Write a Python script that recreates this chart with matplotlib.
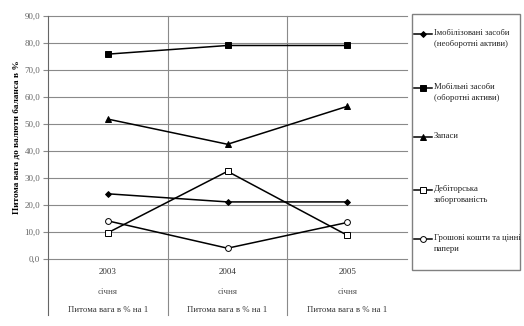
import matplotlib
matplotlib.use("Agg")
import matplotlib.pyplot as plt
from matplotlib.lines import Line2D
from matplotlib.patches import Rectangle

plt.rcParams['font.family'] = ['Liberation Serif', 'DejaVu Serif']

years = ["2003", "2004", "2005"]
month_row = ["січня", "січня", "січня"]
basis_row = ["Питома вага в % на 1", "Питома вага в % на 1", "Питома вага в % на 1"]

series_names = [
    "Імобілізовані засоби\n(необоротні активи)",
    "Мобільні засоби\n(оборотні активи)",
    "Запаси",
    "Дебіторська\nзаборгованість",
    "Грошові кошти та цінні\nпапери",
]
immobile = [24.2, 21.2, 21.2]
mobile = [75.8, 79.0, 79.0]
stocks = [51.8, 42.5, 56.5]
receivables = [9.8, 32.5, 8.9]
cash = [14.2, 4.1, 13.6]
series_values = [immobile, mobile, stocks, receivables, cash]

# marker, face colour, size
styles = [("D", "black", 3.0), ("s", "black", 3.8), ("^", "black", 4.0),
          ("s", "white", 4.2), ("o", "white", 4.2)]

W, H = 524, 326
fig = plt.figure(figsize=(W / 100, H / 100), dpi=100)

ax_l, ax_r, ax_top, ax_bot = 48, 407, 15.7, 259.3
ax = fig.add_axes([ax_l / W, 1 - ax_bot / H, (ax_r - ax_l) / W, (ax_bot - ax_top) / H])

grid_c = "#8a8a8a"
x = list(range(len(years)))
for vals, (m, fc, ms) in zip(series_values, styles):
    ax.plot(x, vals, color="black", lw=1.1, marker=m, markerfacecolor=fc,
            markeredgecolor="black", markersize=ms, markeredgewidth=0.7, zorder=3)

ax.set_xlim(-0.5, 2.5)
ax.set_ylim(0, 90)
ax.set_yticks(range(0, 91, 10))
ax.set_yticklabels([f"{v},0" for v in range(0, 91, 10)])
ax.yaxis.grid(True, color=grid_c, lw=0.8)
for gl in ax.get_ygridlines():
    gl.set_clip_on(False)
ax.set_axisbelow(True)
ax.tick_params(axis="y", direction="out", length=3.5, width=0.8, color=grid_c,
               labelsize=6.5, labelcolor="#666666", pad=2)
ax.set_xticks([])
for s in ["top", "right", "bottom", "left"]:
    ax.spines[s].set_visible(False)

# category table below the plot
table_bottom = -(315 - ax_bot) / (ax_bot - ax_top)
trans = ax.get_xaxis_transform()
for xb in [-0.5, 0.5, 1.5]:
    ax.plot([xb, xb], [table_bottom, 1], color="#666666" if xb == -0.5 else grid_c,
            lw=0.8, transform=trans, clip_on=False, zorder=1)
row_y = [272.5, 291.5, 310.5]
for i in x:
    for ry, txt in zip(row_y, [years[i], month_row[i], basis_row[i]]):
        ax.text(i, -(ry - ax_bot) / (ax_bot - ax_top), txt, transform=trans,
                ha="center", va="center", fontsize=6.5 if ry < 300 else 6.3,
                color="#333333" if ry != 291.5 else "#555555", clip_on=False)

ax.set_ylabel("Питома вага до валюти баланса в %", fontsize=6.7, fontweight="bold",
              labelpad=3)

# legend box
fig.patches.append(Rectangle((412 / W, 1 - 270 / H), (520 - 412) / W, (270 - 14) / H,
                             transform=fig.transFigure, fill=False, edgecolor="#808080",
                             lw=1.0))
handle_y = [34.3, 87.7, 137.3, 190.0, 239.3]
for name, hy, (m, fc, ms) in zip(series_names, handle_y, styles):
    fig.lines.append(Line2D([414 / W, 432 / W], [1 - hy / H, 1 - hy / H],
                            transform=fig.transFigure, color="black", lw=1.1))
    fig.lines.append(Line2D([423 / W], [1 - hy / H], transform=fig.transFigure,
                            marker=m, markerfacecolor=fc, markeredgecolor="black",
                            markersize=ms, markeredgewidth=0.7))
    fig.text(433.5 / W, 1 - (hy - 5) / H, name, fontsize=6.2, va="top", ha="left",
             color="#222222", linespacing=1.5)

fig.savefig("out.png", dpi=100)
